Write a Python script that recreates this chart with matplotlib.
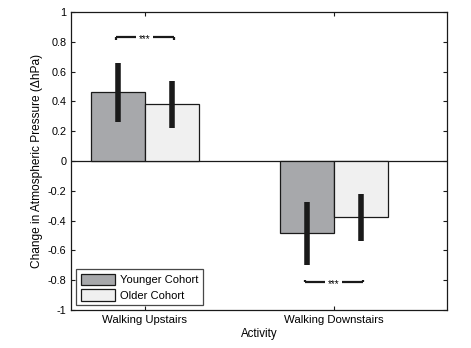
import numpy as np
import matplotlib
matplotlib.use("Agg")
import matplotlib.pyplot as plt

plt.rcParams['font.family'] = ['Liberation Sans', 'DejaVu Sans']
plt.rcParams['axes.unicode_minus'] = False

# data
activities = ['Walking Upstairs', 'Walking Downstairs']
younger = np.array([0.46, -0.485])
older = np.array([0.38, -0.378])
younger_err = np.array([0.195, 0.21])
older_err = np.array([0.155, 0.158])
cohorts = ['Younger Cohort', 'Older Cohort']
sig_y = [0.83, -0.815]
yticks = np.round(np.arange(-1, 1.01, 0.2), 1)

fig = plt.figure(figsize=(4.71, 3.48), dpi=100)
ax = fig.add_axes([0.151, 0.109, 0.798, 0.8565])

x = np.arange(1, len(activities) + 1)
w = 0.286
ax.bar(x - w / 2, younger, w, color='#a7a8ab', edgecolor='#1a1a1a', linewidth=0.9, label=cohorts[0], zorder=2)
ax.bar(x + w / 2, older, w, color='#f0f0f0', edgecolor='#1a1a1a', linewidth=0.9, label=cohorts[1], zorder=2)
ax.errorbar(x - w / 2, younger, yerr=younger_err, fmt='none', ecolor='#1a1a1a', elinewidth=4, capsize=0, zorder=3)
ax.errorbar(x + w / 2, older, yerr=older_err, fmt='none', ecolor='#1a1a1a', elinewidth=4, capsize=0, zorder=3)
ax.axhline(0, color='#1a1a1a', linewidth=0.9, zorder=1)

# significance brackets
for xi, yi, d in zip(x, sig_y, [-0.02, 0.02]):
    for sx in [(-w / 2 - 0.01, -0.045), (0.045, w / 2 + 0.01)]:
        ax.plot([xi + sx[0], xi + sx[1]], [yi, yi], color='#1a1a1a', lw=1.6, solid_capstyle='butt')
    ax.plot([xi - w / 2 - 0.01] * 2, [yi, yi + d], color='#1a1a1a', lw=1.6, solid_capstyle='butt')
    ax.plot([xi + w / 2 + 0.01] * 2, [yi, yi + d], color='#1a1a1a', lw=1.6, solid_capstyle='butt')
    ax.text(xi, yi - 0.01, '***', ha='center', va='center', fontsize=7)

ax.set_xlim(0.61, 2.6)
ax.set_ylim(-1, 1)
ax.set_xticks(x)
ax.set_xticklabels(activities, fontsize=8.2)
ax.set_yticks(yticks)
ax.set_yticklabels(['%g' % (t if t != 0 else 0) for t in yticks], fontsize=7.8)
ax.tick_params(direction='in', length=3, width=0.8, top=True, right=True, color='#1a1a1a')
for s in ax.spines.values():
    s.set_linewidth(0.9)
    s.set_color('#1a1a1a')

ax.set_xlabel('Activity', fontsize=8.3, labelpad=2)
ax.set_ylabel('Change in Atmospheric Pressure (ΔhPa)', fontsize=8.6, labelpad=3)

leg = ax.legend(loc='lower left', fontsize=8, fancybox=False, edgecolor='#1a1a1a',
                borderaxespad=0.45, handlelength=3.1, handleheight=1.2, labelspacing=0.35,
                borderpad=0.4, handletextpad=0.45)
leg.get_frame().set_linewidth(0.9)

fig.savefig('out.png', dpi=100)
